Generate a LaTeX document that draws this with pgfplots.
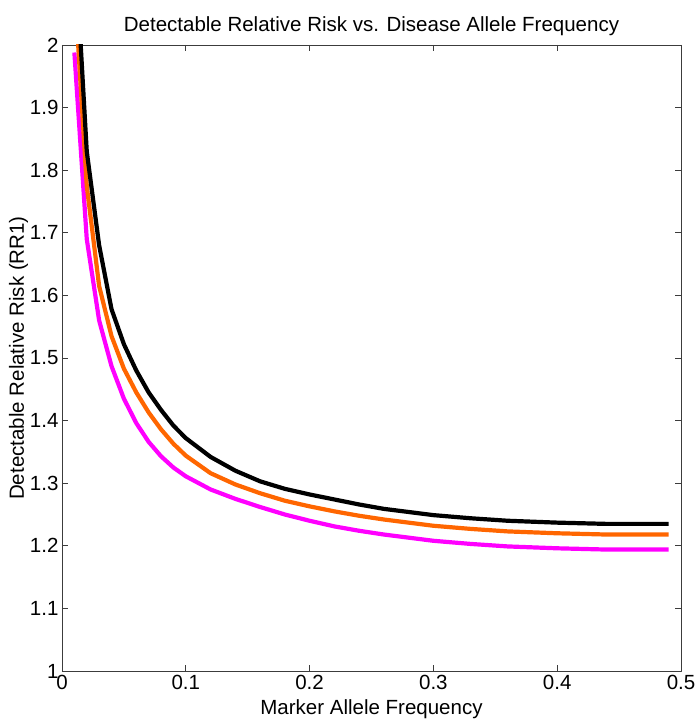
\documentclass[border=0pt]{standalone}
\usepackage{fontspec}
\setmainfont{Liberation Sans}
\usepackage{pgfplots}
\pgfplotsset{compat=1.18}
\definecolor{rorange}{RGB}{255,102,0}
\definecolor{rmagenta}{RGB}{255,0,255}
\definecolor{raxis}{RGB}{60,60,60}
\begin{document}
\begin{tikzpicture}
\useasboundingbox (-62bp,-55bp) rectangle (636bp,671bp);
\begin{axis}[
  at={(0,0)}, anchor=south west,
  scale only axis, width=619bp, height=626bp,
  xmin=0, xmax=0.5, ymin=1, ymax=2,
  xtick={0,0.1,0.2,0.3,0.4,0.5},
  ytick={1,1.1,1.2,1.3,1.4,1.5,1.6,1.7,1.8,1.9,2},
  xticklabels={0,0.1,0.2,0.3,0.4,0.5},
  yticklabels={1,1.1,1.2,1.3,1.4,1.5,1.6,1.7,1.8,1.9,2},
  tick align=inside, major tick length=6bp,
  axis line style={raxis, line width=0.9bp},
  every tick/.style={raxis, line width=0.9bp},
  font=\fontsize{20.5bp}{24bp}\selectfont,
  tick label style={font=\fontsize{20.5bp}{24bp}\selectfont},
  xticklabel style={yshift=-1bp},
  title={Detectable Relative Risk vs. Disease Allele Frequency},
  title style={yshift=0bp},
  xlabel={Marker Allele Frequency},
  ylabel={Detectable Relative Risk (RR1)},
  xlabel style={yshift=-3bp},
  ylabel style={yshift=-5bp},
  line join=round,
]
\addplot[rmagenta, line width=4.2bp] coordinates {
(0.01,1.988) (0.02,1.69) (0.03,1.56) (0.04,1.487) (0.05,1.435) (0.06,1.396)
(0.07,1.366) (0.08,1.343) (0.09,1.325) (0.10,1.311) (0.12,1.290) (0.14,1.275)
(0.16,1.262) (0.18,1.250) (0.20,1.240) (0.22,1.231) (0.24,1.224) (0.26,1.218)
(0.28,1.213) (0.30,1.208) (0.33,1.203) (0.36,1.199) (0.40,1.196) (0.44,1.194)
(0.49,1.194)
};
\addplot[rorange, line width=4.2bp] coordinates {
(0.01,2.10) (0.02,1.775) (0.03,1.615) (0.04,1.535) (0.05,1.483) (0.06,1.445)
(0.07,1.413) (0.08,1.386) (0.09,1.363) (0.10,1.344) (0.12,1.316) (0.14,1.298)
(0.16,1.284) (0.18,1.272) (0.20,1.263) (0.22,1.255) (0.24,1.248) (0.26,1.242)
(0.28,1.237) (0.30,1.232) (0.33,1.227) (0.36,1.223) (0.40,1.220) (0.44,1.218)
(0.49,1.218)
};
\addplot[black, line width=4.2bp] coordinates {
(0.01,2.177) (0.02,1.83) (0.03,1.68) (0.04,1.578) (0.05,1.522) (0.06,1.480)
(0.07,1.445) (0.08,1.417) (0.09,1.392) (0.10,1.372) (0.12,1.342) (0.14,1.320)
(0.16,1.303) (0.18,1.291) (0.20,1.282) (0.22,1.274) (0.24,1.266) (0.26,1.259)
(0.28,1.254) (0.30,1.249) (0.33,1.244) (0.36,1.240) (0.40,1.237) (0.44,1.235)
(0.49,1.235)
};
\end{axis}
\end{tikzpicture}
\end{document}
